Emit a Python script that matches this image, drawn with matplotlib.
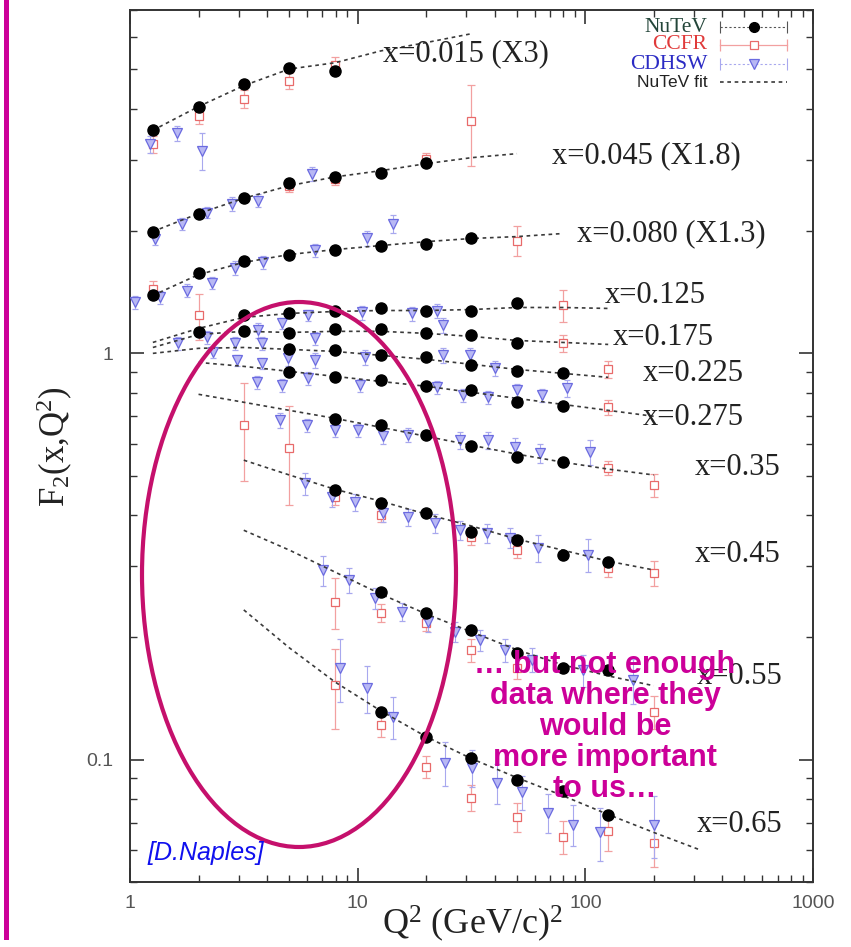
import matplotlib
matplotlib.use("Agg")
import matplotlib.pyplot as plt
from matplotlib.patches import Ellipse
from matplotlib.lines import Line2D
from matplotlib.ticker import FixedLocator, NullFormatter, FixedFormatter

plt.rcParams["mathtext.fontset"] = "custom"
plt.rcParams["mathtext.rm"] = "Liberation Serif"
plt.rcParams["mathtext.it"] = "Liberation Serif:italic"

N = None

# Q^2 bins (GeV/c)^2 shared by NuTeV, CCFR and the fit curves
Q2_BINS = [1.26, 2.0, 3.16, 5.01, 7.94, 12.6, 20.0, 31.6, 50.1, 79.4, 126.0, 200.0, 316.0]

X_LABELS = ["x=0.015 (X3)", "x=0.045 (X1.8)", "x=0.080 (X1.3)", "x=0.125", "x=0.175",
            "x=0.225", "x=0.275", "x=0.35", "x=0.45", "x=0.55", "x=0.65"]
SCALE = [3.0, 1.8, 1.3, 1, 1, 1, 1, 1, 1, 1, 1]

# NuTeV F2 on Q2_BINS
nutev_015 = [1.18, 1.35, 1.53, 1.68, 1.65, N, N, N, N, N, N, N, N]
nutev_045 = [1.108, 1.227, 1.343, 1.461, 1.51, 1.547, 1.636, N, N, N, N, N, N]
nutev_080 = [1.068, 1.210, 1.302, 1.347, 1.385, 1.417, 1.433, 1.483, N, N, N, N, N]
nutev_125 = [N, N, 1.240, 1.254, 1.275, 1.290, 1.268, 1.275, 1.327, N, N, N, N]
nutev_175 = [N, 1.126, 1.133, 1.120, 1.146, 1.146, 1.120, 1.107, 1.058, N, N, N, N]
nutev_225 = [N, N, N, 1.023, 1.017, 0.989, 0.978, 0.934, 0.903, 0.893, N, N, N]
nutev_275 = [N, N, N, 0.898, 0.873, 0.858, 0.830, 0.811, 0.758, 0.741, N, N, N]
nutev_35 = [N, N, N, N, 0.688, 0.665, 0.629, 0.591, 0.555, 0.540, N, N, N]
nutev_45 = [N, N, N, N, 0.461, 0.428, 0.404, 0.363, 0.347, 0.319, 0.3066, N, N]
nutev_55 = [N, N, N, N, N, 0.2587, 0.2297, 0.2087, 0.1832, 0.1683, 0.1664, N, N]
nutev_65 = [N, N, N, N, N, 0.1312, 0.1139, 0.1011, 0.0893, 0.0839, 0.0729, N, N]

# CCFR F2 and errors on Q2_BINS
ccfr_015 = [1.09, 1.28, 1.41, 1.56, 1.71, N, N, N, N, N, N, N, N]
ccfr_err_015 = [0.05, 0.06, 0.07, 0.07, 0.08, N, N, N, N, N, N, N, N]
ccfr_045 = [N, N, N, 1.437, 1.495, N, 1.674, 2.076, N, N, N, N, N]
ccfr_err_045 = [N, N, N, 0.05, 0.05, N, 0.06, 0.47, N, N, N, N, N]
ccfr_080 = [1.111, N, N, N, N, N, N, N, 1.458, N, N, N, N]
ccfr_err_080 = [0.05, N, N, N, N, N, N, N, 0.125, N, N, N, N]
ccfr_125 = [N, 1.240, N, N, N, N, N, N, N, 1.312, N, N, N]
ccfr_err_125 = [N, 0.16, N, N, N, N, N, N, N, 0.12, N, N, N]
ccfr_175 = [N, N, N, N, N, N, N, N, N, 1.058, N, N, N]
ccfr_err_175 = [N, N, N, N, N, N, N, N, N, 0.05, N, N, N]
ccfr_225 = [N, N, N, N, N, N, N, N, N, N, 0.913, N, N]
ccfr_err_225 = [N, N, N, N, N, N, N, N, N, N, 0.045, N, N]
ccfr_275 = [N, N, N, N, N, N, N, N, N, N, 0.737, N, N]
ccfr_err_275 = [N, N, N, N, N, N, N, N, N, N, 0.03, N, N]
ccfr_35 = [N, N, 0.665, 0.584, N, N, N, N, N, N, 0.522, 0.474, N]
ccfr_err_35 = [N, N, 0.18, 0.16, N, N, N, N, N, N, 0.02, 0.03, N]
ccfr_45 = [N, N, N, N, 0.443, 0.400, N, 0.353, 0.328, N, 0.296, 0.288, N]
ccfr_err_45 = [N, N, N, N, 0.02, 0.015, N, 0.015, 0.015, N, 0.015, 0.02, N]
ccfr_55 = [N, N, N, N, 0.2444, 0.2297, 0.2171, 0.1864, 0.1683, N, N, 0.1312, N]
ccfr_err_55 = [N, N, N, N, 0.035, 0.012, 0.01, 0.012, 0.01, N, N, 0.012, N]
ccfr_65 = [N, N, N, N, 0.1528, 0.1219, 0.0961, 0.0807, 0.0724, 0.0647, 0.0666, 0.0625, N]
ccfr_err_65 = [N, N, N, N, 0.034, 0.008, 0.006, 0.006, 0.006, 0.006, 0.007, 0.008, N]

# CDHSW points (own Q^2 values)
cdhsw_q2_015 = [1.22, 1.61, 2.07]
cdhsw_015 = [1.09, 1.16, 1.05]
cdhsw_err_015 = [0.05, 0.05, 0.11]
cdhsw_q2_045 = [1.29, 1.69, 2.18, 2.80, 3.65, 6.29]
cdhsw_045 = [1.065, 1.159, 1.234, 1.298, 1.32, 1.537]
cdhsw_err_045 = [0.04, 0.04, 0.04, 0.05, 0.05, 0.06]
cdhsw_q2_080 = [1.05, 1.35, 1.78, 2.29, 2.89, 3.84, 6.49, 10.96, 14.3]
cdhsw_080 = [1.027, 1.056, 1.098, 1.149, 1.251, 1.288, 1.378, 1.475, 1.605]
cdhsw_err_080 = [0.04, 0.04, 0.04, 0.04, 0.05, 0.05, 0.05, 0.06, 0.08]
cdhsw_q2_125 = [4.65, 6.05, 10.4, 17.3, 22.3]
cdhsw_125 = [1.185, 1.240, 1.261, 1.254, 1.275]
cdhsw_err_125 = [0.04, 0.04, 0.05, 0.05, 0.05]
cdhsw_q2_175 = [1.625, 2.18, 2.89, 3.65, 3.80, 6.49, 23.7]
cdhsw_175 = [1.058, 1.095, 1.058, 1.139, 1.058, 1.089, 1.172]
cdhsw_err_175 = [0.04, 0.04, 0.04, 0.05, 0.04, 0.04, 0.05]
cdhsw_q2_225 = [2.32, 2.95, 3.80, 4.94, 6.49, 10.8, 23.7, 31.1, 40.1]
cdhsw_225 = [1.006, 0.961, 0.945, 0.972, 0.961, 0.978, 0.989, 0.989, 0.919]
cdhsw_err_225 = [0.03, 0.03, 0.03, 0.04, 0.04, 0.04, 0.04, 0.04, 0.04]
cdhsw_q2_275 = [3.61, 4.65, 6.05, 10.2, 22.3, 29.0, 37.4, 50.0, 64.5, 83.0]
cdhsw_275 = [0.849, 0.834, 0.868, 0.834, 0.825, 0.789, 0.780, 0.811, 0.789, 0.820]
cdhsw_err_275 = [0.03, 0.03, 0.03, 0.03, 0.03, 0.03, 0.03, 0.03, 0.03, 0.04]
cdhsw_q2_35 = [4.56, 5.99, 7.94, 10.0, 12.9, 16.6, 28.1, 37.4, 49.1, 63.2, 104.8]
cdhsw_35 = [0.684, 0.665, 0.647, 0.647, 0.625, 0.629, 0.611, 0.611, 0.588, 0.568, 0.571]
cdhsw_err_35 = [0.03, 0.025, 0.025, 0.025, 0.025, 0.025, 0.03, 0.03, 0.03, 0.03, 0.04]
cdhsw_q2_45 = [5.87, 7.71, 9.73, 12.9, 16.6, 21.9, 28.1, 37.0, 46.6, 61.9, 102.7]
cdhsw_45 = [0.479, 0.443, 0.430, 0.404, 0.395, 0.382, 0.367, 0.361, 0.351, 0.332, 0.319]
cdhsw_err_45 = [0.03, 0.025, 0.02, 0.02, 0.02, 0.02, 0.02, 0.02, 0.02, 0.025, 0.03]
cdhsw_q2_55 = [7.04, 9.16, 11.9, 15.6, 20.3, 26.8, 34.4, 44.4, 58.3, 97.6, 161.8]
cdhsw_55 = [0.293, 0.277, 0.250, 0.231, 0.218, 0.2063, 0.197, 0.1864, 0.176, 0.1664, 0.1572]
cdhsw_err_55 = [0.025, 0.02, 0.015, 0.012, 0.012, 0.012, 0.012, 0.012, 0.012, 0.015, 0.02]
cdhsw_q2_65 = [8.36, 10.96, 14.3, 24.2, 31.8, 40.9, 52.7, 68.5, 88.2, 115.9, 200.0]
cdhsw_65 = [0.1683, 0.1503, 0.1275, 0.0983, 0.0956, 0.0878, 0.0834, 0.0741, 0.0692, 0.0662, 0.0692]
cdhsw_err_65 = [0.03, 0.02, 0.015, 0.012, 0.01, 0.01, 0.008, 0.008, 0.008, 0.01, 0.012]

# NuTeV fit curves on Q2_BINS
fit_015 = [1.18, 1.35, 1.52, 1.67, 1.73, 1.85, 1.94, 2.04, N, N, N, N, N]
fit_045 = [1.108, 1.227, 1.338, 1.437, 1.51, 1.564, 1.628, 1.684, 1.723, N, N, N, N]
fit_080 = [1.068, 1.202, 1.288, 1.347, 1.385, 1.417, 1.449, 1.475, 1.491, 1.517, N, N, N]
fit_125 = [1.064, 1.152, 1.226, 1.254, 1.268, 1.275, 1.275, 1.282, 1.297, 1.297, 1.290, N, N]
fit_175 = [1.034, 1.113, 1.133, 1.126, 1.133, 1.133, 1.120, 1.101, 1.076, 1.064, 1.052, N, N]
fit_225 = [1.0, 1.029, 1.034, 1.023, 1.011, 0.989, 0.967, 0.940, 0.913, 0.893, 0.873, N, N]
fit_275 = [N, 0.950, 0.929, 0.903, 0.878, 0.853, 0.830, 0.802, 0.775, 0.749, 0.724, 0.700, N]
fit_35 = [N, 0.793, 0.758, 0.724, 0.692, 0.658, 0.625, 0.594, 0.565, 0.540, 0.519, 0.502, N]
fit_45 = [N, N, 0.546, 0.502, 0.463, 0.433, 0.402, 0.376, 0.349, 0.328, 0.308, 0.293, N]
fit_55 = [N, N, 0.367, 0.328, 0.2897, 0.2558, 0.2284, 0.2063, 0.1864, 0.1712, 0.1608, 0.152, N]
fit_65 = [N, N, 0.2337, 0.1885, 0.1554, 0.132, 0.1139, 0.1006, 0.0903, 0.0816, 0.0733, 0.0662, 0.0601]

NUTEV = [nutev_015, nutev_045, nutev_080, nutev_125, nutev_175, nutev_225,
         nutev_275, nutev_35, nutev_45, nutev_55, nutev_65]
CCFR = [ccfr_015, ccfr_045, ccfr_080, ccfr_125, ccfr_175, ccfr_225,
        ccfr_275, ccfr_35, ccfr_45, ccfr_55, ccfr_65]
CCFR_ERR = [ccfr_err_015, ccfr_err_045, ccfr_err_080, ccfr_err_125, ccfr_err_175,
            ccfr_err_225, ccfr_err_275, ccfr_err_35, ccfr_err_45, ccfr_err_55, ccfr_err_65]
CDHSW_Q2 = [cdhsw_q2_015, cdhsw_q2_045, cdhsw_q2_080, cdhsw_q2_125, cdhsw_q2_175,
            cdhsw_q2_225, cdhsw_q2_275, cdhsw_q2_35, cdhsw_q2_45, cdhsw_q2_55, cdhsw_q2_65]
CDHSW = [cdhsw_015, cdhsw_045, cdhsw_080, cdhsw_125, cdhsw_175, cdhsw_225,
         cdhsw_275, cdhsw_35, cdhsw_45, cdhsw_55, cdhsw_65]
CDHSW_ERR = [cdhsw_err_015, cdhsw_err_045, cdhsw_err_080, cdhsw_err_125, cdhsw_err_175,
             cdhsw_err_225, cdhsw_err_275, cdhsw_err_35, cdhsw_err_45, cdhsw_err_55,
             cdhsw_err_65]
FITS = [fit_015, fit_045, fit_080, fit_125, fit_175, fit_225,
        fit_275, fit_35, fit_45, fit_55, fit_65]

# label anchor points (left edge, vertical centre) in data coordinates
LABEL_POS = [(12.9, 5.46), (71.4, 3.065), (91.9, 1.972), (121.9, 1.388), (132.2, 1.095),
             (179.0, 0.893), (179.0, 0.696), (303.0, 0.525), (303.0, 0.319),
             (309.0, 0.160), (309.0, 0.0692)]

SERIF = ["Liberation Serif", "DejaVu Serif"]
SANS = ["Liberation Sans", "DejaVu Sans"]

C_CCFR = "#e86a6a"
C_CCFR_ERR = "#f2a0a0"
C_CDHSW = "#6b6be0"
C_CDHSW_FILL = "#b8b8f4"
C_CDHSW_ERR = "#a8a8ee"
C_FIT = "#3a3a3a"


def pick(q2, vals, scale, errs=None):
    xs, ys, es = [], [], []
    for i, (q, v) in enumerate(zip(q2, vals)):
        if v is None:
            continue
        xs.append(q)
        ys.append(v * scale)
        if errs is not None:
            es.append(errs[i] * scale)
    return xs, ys, es


fig = plt.figure(figsize=(8.51, 9.47), dpi=100)
ax = fig.add_axes([130 / 851, 65 / 947, 683 / 851, 872 / 947])
ax.set_xscale("log")
ax.set_yscale("log")
ax.set_xlim(1, 1000)
ax.set_ylim(0.05, 7)

for k in range(len(X_LABELS)):
    s = SCALE[k]
    # CCFR
    xs, ys, es = pick(Q2_BINS, CCFR[k], s, CCFR_ERR[k])
    ax.errorbar(xs, ys, yerr=es, fmt="s", ms=6, mfc="white", mec=C_CCFR, mew=0.9,
                ecolor=C_CCFR_ERR, elinewidth=0.9, capsize=3, capthick=0.9, zorder=2)
    # CDHSW
    xs, ys, es = pick(CDHSW_Q2[k], CDHSW[k], s, CDHSW_ERR[k])
    ax.errorbar(xs, ys, yerr=es, fmt="v", ms=7, mfc=C_CDHSW_FILL, mec=C_CDHSW, mew=0.9,
                ecolor=C_CDHSW_ERR, elinewidth=0.8, capsize=2.5, capthick=0.8, zorder=3)
    # fit
    xs, ys, _ = pick(Q2_BINS, FITS[k], s)
    ax.plot(xs, ys, ls=(0, (2.2, 2.2)), color=C_FIT, lw=1.2, zorder=4)
    # NuTeV
    xs, ys, _ = pick(Q2_BINS, NUTEV[k], s)
    ax.plot(xs, ys, "o", ms=8, color="black", zorder=5)
    # row label
    lq, lf = LABEL_POS[k]
    ax.text(lq, lf, X_LABELS[k], ha="left", va="center", fontsize=22,
            family=SERIF, color="#222222", zorder=6)

# axes styling
for sp in ax.spines.values():
    sp.set_linewidth(1.4)
    sp.set_color("#333333")
ax.xaxis.set_major_locator(FixedLocator([1, 10, 100, 1000]))
ax.xaxis.set_major_formatter(FixedFormatter(["1", "10", "100", "1000"]))
ax.xaxis.set_minor_locator(FixedLocator([m * 10 ** d for d in range(3) for m in range(2, 10)]))
ax.xaxis.set_minor_formatter(NullFormatter())
ax.yaxis.set_major_locator(FixedLocator([0.1, 1]))
ax.yaxis.set_major_formatter(FixedFormatter(["0.1", "1"]))
ax.yaxis.set_minor_locator(FixedLocator([m * 10 ** d for d in (-2, -1, 0) for m in range(2, 10)]))
ax.yaxis.set_minor_formatter(NullFormatter())
ax.tick_params(which="both", direction="in", top=True, right=True, colors="#333333",
               labelcolor="#555555")
ax.tick_params(which="major", length=10, width=1.2, labelsize=14)
ax.tick_params(which="minor", length=5, width=1.0)
ax.tick_params(axis="x", which="major", pad=9)
ax.tick_params(axis="y", which="major", pad=12)
for t in ax.get_xticklabels() + ax.get_yticklabels():
    t.set_family(SANS)

# axis titles
fig.text(55 / 851, 1 - 447 / 947, r"F$_2$(x,Q$^2$)", rotation=90, ha="center",
         va="center", fontsize=25, family=SERIF, color="#222222")
fig.text(472 / 851, 1 - 924 / 947, r"Q$^2$ (GeV/c)$^2$", ha="center", va="center",
         fontsize=26, family=SERIF, color="#222222")

# legend
leg_rows = [("NuTeV", "#24463a", SERIF, 15.5), ("CCFR", "#e03a3a", SERIF, 15.5),
            ("CDHSW", "#2b2bc4", SERIF, 15.5), ("NuTeV fit", "#222222", SANS, 12.5)]
leg_y = [0.980, 0.960, 0.938, 0.917]
tx, sx0, sx1 = 0.845, 0.864, 0.962
for (lab, col, fam, fs), y in zip(leg_rows, leg_y):
    ax.text(tx, y, lab, transform=ax.transAxes, ha="right", va="center",
            fontsize=fs, family=fam, color=col, zorder=7)
mid = 0.5 * (sx0 + sx1)
ax.add_line(Line2D([sx0, sx1], [leg_y[0]] * 2, transform=ax.transAxes, color="#555555",
                   lw=0.8, ls=(0, (2, 2)), marker="|", ms=8, mew=0.8))
ax.add_line(Line2D([mid], [leg_y[0]], transform=ax.transAxes, marker="o", ms=7,
                   color="black", ls="none"))
ax.add_line(Line2D([sx0, sx1], [leg_y[1]] * 2, transform=ax.transAxes, color=C_CCFR_ERR,
                   lw=0.9, marker="|", ms=8, mew=0.9))
ax.add_line(Line2D([mid], [leg_y[1]], transform=ax.transAxes, marker="s", ms=6,
                   mfc="white", mec=C_CCFR, mew=0.9, ls="none"))
ax.add_line(Line2D([sx0, sx1], [leg_y[2]] * 2, transform=ax.transAxes, color=C_CDHSW_ERR,
                   lw=0.8, ls=(0, (2, 2)), marker="|", ms=8, mew=0.8))
ax.add_line(Line2D([mid], [leg_y[2]], transform=ax.transAxes, marker="v", ms=7,
                   mfc=C_CDHSW_FILL, mec=C_CDHSW, mew=0.9, ls="none"))
ax.add_line(Line2D([sx0, sx1], [leg_y[3]] * 2, transform=ax.transAxes, color=C_FIT,
                   lw=1.2, ls=(0, (2.2, 2.2))))

# slide annotations
fig.add_artist(Line2D([5.5 / 851, 5.5 / 851], [1.0, 1 - 937 / 947],
                      transform=fig.transFigure, color="#cc0099", lw=3.6))
fig.add_artist(Ellipse((299 / 851, 1 - 574.5 / 947), 314 / 851, 545 / 947,
                       transform=fig.transFigure, fill=False, ec="#c5106c", lw=3.0,
                       zorder=10))
fig.text(147 / 851, 1 - 853 / 947, "[D.Naples]", ha="left", va="center", fontsize=18,
         style="italic", family=SANS, color="#1010ee", zorder=11)
fig.text(605 / 851, 1 - 727 / 947,
         "\u2026 but not enough\ndata where they\nwould be\nmore important\nto us\u2026",
         ha="center", va="center", fontsize=22, fontweight="bold", family=SANS,
         color="#cc0099", linespacing=1.05, zorder=12)

fig.savefig("out.png", dpi=100)
